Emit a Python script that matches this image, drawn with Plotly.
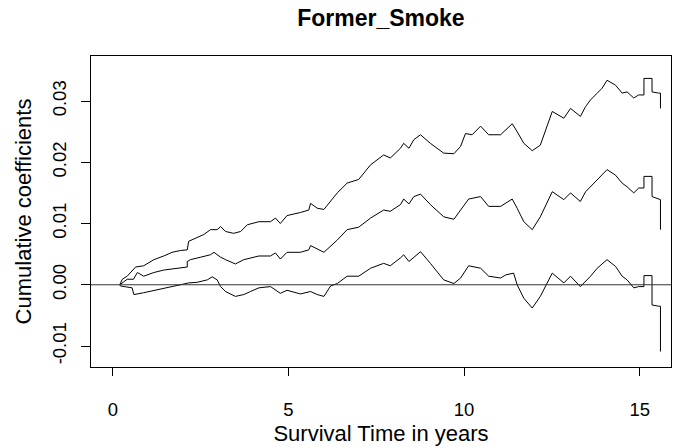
import plotly.graph_objects as go

title_text = "Former_Smoke"
x_title = "Survival Time in years"
y_title = "Cumulative coefficients"
x_ticks = [0, 5, 10, 15]
y_ticks = [-0.01, 0.00, 0.01, 0.02, 0.03]
y_ticklabels = ["-0.01", "0.00", "0.01", "0.02", "0.03"]

# Estimate (middle curve); repeated times mark visible vertical jumps
time_est = [0.20, 0.27, 0.41, 0.59, 0.70, 0.88, 1.17, 1.45, 1.83, 2.12, 2.12, 2.21, 2.50, 2.78, 2.88,
            3.07, 3.21, 3.49, 3.73, 3.92, 4.16, 4.49, 4.63, 4.77, 4.96, 5.34, 5.58, 5.63, 5.82,
            6.01, 6.39, 6.67, 7.00, 7.34, 7.71, 7.90, 8.19, 8.28, 8.43, 8.57, 8.76, 9.04, 9.42,
            9.71, 9.90, 10.13, 10.47, 10.70, 11.04, 11.18, 11.37, 11.51, 11.70, 11.94, 12.17,
            12.51, 12.84, 13.03, 13.31, 13.46, 13.60, 13.79, 14.07, 14.31, 14.50, 14.64, 14.83,
            14.97, 15.12, 15.12, 15.35, 15.35, 15.54, 15.59, 15.59]
est = [0.0, 0.0003, 0.0009, 0.0009, 0.0020, 0.0014, 0.0020, 0.0024, 0.0027, 0.0029, 0.0038, 0.0041,
       0.0045, 0.0049, 0.0053, 0.0045, 0.0041, 0.0034, 0.0041, 0.0044, 0.0047, 0.0047, 0.0052,
       0.0042, 0.0053, 0.0053, 0.0057, 0.0064, 0.0058, 0.0053, 0.0073, 0.0090, 0.0094, 0.0109,
       0.0122, 0.0120, 0.0131, 0.0140, 0.0132, 0.0144, 0.0148, 0.0131, 0.0111, 0.0107, 0.0122,
       0.0140, 0.0144, 0.0128, 0.0128, 0.0133, 0.0140, 0.0125, 0.0103, 0.0090, 0.0111, 0.0152,
       0.0139, 0.0150, 0.0136, 0.0152, 0.0160, 0.0171, 0.0188, 0.0179, 0.0166, 0.0160, 0.0150,
       0.0158, 0.0158, 0.0177, 0.0177, 0.0144, 0.0139, 0.0139, 0.0090]

# Upper confidence band
time_upper = [0.20, 0.27, 0.41, 0.65, 0.88, 1.17, 1.45, 1.69, 1.93, 2.12, 2.16, 2.35, 2.59, 2.78,
              2.97, 3.07, 3.21, 3.44, 3.64, 3.83, 4.16, 4.49, 4.63, 4.77, 4.96, 5.34, 5.58, 5.63,
              5.82, 6.01, 6.39, 6.67, 7.00, 7.34, 7.71, 7.90, 8.19, 8.28, 8.43, 8.57, 8.76, 9.04,
              9.42, 9.71, 9.90, 10.04, 10.23, 10.47, 10.70, 11.04, 11.18, 11.37, 11.51, 11.70,
              11.94, 12.17, 12.51, 12.84, 13.03, 13.31, 13.46, 13.60, 13.79, 13.93, 14.07, 14.31,
              14.50, 14.64, 14.83, 14.97, 15.12, 15.12, 15.35, 15.35, 15.54, 15.59, 15.59]
upper = [0.0, 0.0009, 0.0014, 0.0029, 0.0031, 0.0041, 0.0047, 0.0053, 0.0056, 0.0057, 0.0071,
         0.0076, 0.0082, 0.0090, 0.0090, 0.0095, 0.0087, 0.0084, 0.0087, 0.0098, 0.0103, 0.0103,
         0.0109, 0.0100, 0.0113, 0.0118, 0.0122, 0.0133, 0.0125, 0.0123, 0.0150, 0.0166, 0.0172,
         0.0196, 0.0212, 0.0207, 0.0223, 0.0231, 0.0223, 0.0237, 0.0245, 0.0231, 0.0215, 0.0214,
         0.0226, 0.0247, 0.0245, 0.0259, 0.0245, 0.0245, 0.0253, 0.0263, 0.0250, 0.0231, 0.0219,
         0.0228, 0.0283, 0.0272, 0.0288, 0.0275, 0.0291, 0.0302, 0.0313, 0.0321, 0.0334, 0.0326,
         0.0313, 0.0315, 0.0305, 0.0310, 0.0310, 0.0337, 0.0337, 0.0315, 0.0313, 0.0313, 0.0288]

# Lower confidence band
time_lower = [0.20, 0.22, 0.55, 0.60, 0.88, 1.36, 1.83, 2.16, 2.40, 2.69, 2.83, 2.97, 3.07, 3.21,
              3.49, 3.73, 3.92, 4.16, 4.49, 4.77, 4.96, 5.34, 5.63, 5.82, 6.01, 6.20, 6.39, 6.67,
              7.00, 7.34, 7.71, 7.90, 8.19, 8.28, 8.43, 8.76, 9.04, 9.42, 9.71, 9.90, 10.13, 10.47,
              10.70, 11.04, 11.18, 11.41, 11.51, 11.70, 11.94, 12.17, 12.51, 12.84, 13.03, 13.31,
              13.60, 13.79, 14.07, 14.31, 14.50, 14.64, 14.83, 14.97, 15.12, 15.12, 15.35, 15.35,
              15.54, 15.59, 15.59]
lower = [0.0, -0.0002, -0.0005, -0.0016, -0.0013, -0.0007, -0.0002, 0.0003, 0.0004, 0.0008,
         0.0013, 0.0008, -0.0003, -0.0011, -0.0019, -0.0016, -0.0011, -0.0005, -0.0003, -0.0014,
         -0.0009, -0.0015, -0.0011, -0.0016, -0.0019, -0.0002, 0.0002, 0.0014, 0.0014, 0.0027,
         0.0035, 0.0031, 0.0044, 0.0049, 0.0038, 0.0054, 0.0035, 0.0008, 0.0002, 0.0011, 0.0031,
         0.0027, 0.0014, 0.0011, 0.0016, 0.0019, 0.0, -0.0022, -0.0038, -0.0019, 0.0019, 0.0003,
         0.0014, -0.0003, 0.0014, 0.0027, 0.0041, 0.0030, 0.0014, 0.0008, -0.0005, -0.0003,
         -0.0003, 0.0015, 0.0015, -0.0033, -0.0035, -0.0035, -0.0109]

FONT = "Liberation Sans, Arial, sans-serif"

fig = go.Figure()
for xs, ys in [(time_upper, upper), (time_est, est), (time_lower, lower)]:
    fig.add_trace(go.Scatter(x=xs, y=ys, mode="lines", line=dict(color="black", width=1),
                             showlegend=False, hoverinfo="skip"))

fig.add_shape(type="line", xref="paper", x0=0, x1=1, yref="y", y0=0, y1=0,
              line=dict(color="#333333", width=1))

fig.update_layout(
    width=673, height=447,
    margin=dict(l=91, r=2, t=56, b=80),
    paper_bgcolor="white", plot_bgcolor="white",
    font=dict(family=FONT, size=18.5, color="black"),
    title=dict(text="<b>" + title_text + "</b>", x=0.566, xanchor="center", y=0.96, yanchor="middle",
               yref="container", font=dict(family=FONT, size=23, color="black")),
    xaxis=dict(range=[-0.62, 15.89], tickvals=x_ticks, ticktext=[str(v) for v in x_ticks],
               ticks="outside", ticklen=8, tickcolor="black", showgrid=False, zeroline=False,
               showline=True, linecolor="black", linewidth=1, mirror=True,
               title=dict(text=x_title, standoff=6), ticklabelstandoff=18),
    yaxis=dict(range=[-0.01343, 0.03736], tickvals=y_ticks, ticktext=y_ticklabels,
               tickangle=-90, ticks="outside", ticklen=9, tickcolor="black", showgrid=False,
               zeroline=False, showline=True, linecolor="black", linewidth=1, mirror=True,
               title=dict(text=y_title, standoff=10), ticklabelstandoff=8),
)

fig.write_html("out.html")
